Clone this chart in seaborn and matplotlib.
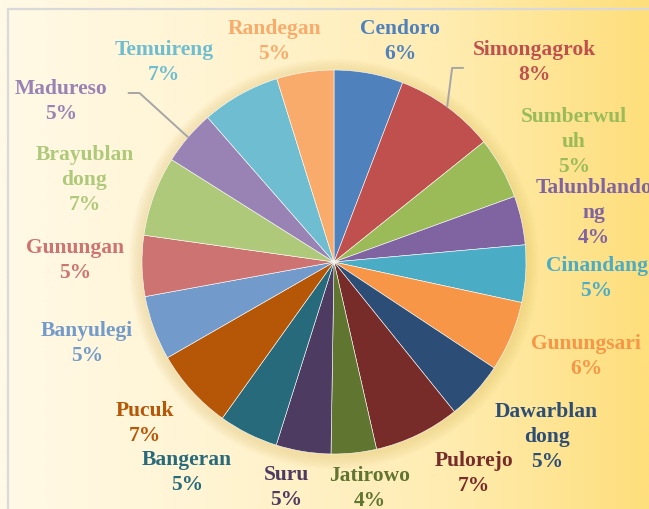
import numpy as np
import matplotlib.pyplot as plt
import seaborn as sns
from matplotlib.colors import LinearSegmentedColormap
from matplotlib.patches import Circle

# village shares, clockwise from the top
villages = ["Cendoro", "Simongagrok", "Sumberwuluh", "Talunblandong", "Cinandang",
            "Gunungsari", "Dawarblandong", "Pulorejo", "Jatirowo", "Suru",
            "Bangeran", "Pucuk", "Banyulegi", "Gunungan", "Brayublandong",
            "Madureso", "Temuireng", "Randegan"]
shares = [5.8, 8.4, 5.2, 4.1, 4.8, 5.9, 4.9, 7.2, 3.8, 4.6,
          5.0, 6.8, 5.4, 5.1, 6.7, 4.6, 6.6, 4.8]

colors = ["#4F81BD", "#C0504D", "#9BBB59", "#8064A2", "#4BACC6", "#F79646",
          "#2C4D75", "#772C2A", "#5F7530", "#4D3B62", "#276A7C", "#B65708",
          "#729ACA", "#CD7371", "#AFC97A", "#9983B5", "#6FBDD1", "#F9AB6B"]

# label placement: (angle shift clockwise in degrees, distance from centre in px)
label_place = [(6.2, 231), (8.9, 283), (2.5, 269), (1.6, 265), (-0.2, 263),
               (-2.5, 269), (-3.0, 275), (-7.8, 253), (-3.0, 228), (2.8, 230),
               (8.5, 256), (1.9, 248), (2.0, 260), (1.7, 259), (-1.7, 263),
               (-9.8, 317), (-11.0, 263), (-6.4, 229)]
wrap_at = {"Sumberwuluh": 9, "Talunblandong": 11, "Brayublandong": 9, "Dawarblandong": 9}
# leader lines: offset of line end from label centre (px, y down)
leaders = {"Simongagrok": (-71, 6), "Madureso": (67, -7)}
line_pitch = 25

sns.set_style("white")
plt.rcParams["font.family"] = ["Liberation Serif", "DejaVu Serif"]

W, H = 649, 510
fig = plt.figure(figsize=(W / 100, H / 100), dpi=100)
ax = fig.add_axes([0, 0, 1, 1])

# background gradient
bg = LinearSegmentedColormap.from_list("bg", ["#FFF9E6", "#FFF4D2", "#FFEDB4", "#FEDF7C"])
ax.imshow(np.linspace(0, 1, 300)[None, :], extent=(0, W, 0, H), cmap=bg,
          aspect="auto", zorder=0)
ax.plot([8, 8, W], [0, H - 10, H - 10], color="#D9D9D9", lw=1.6, zorder=1)

cx, cy, R = 334, H - 263, 192

# soft shadow round the pie
for k in range(8):
    ax.add_patch(Circle((cx, cy - 2), R + 2 + k * 1.6, color="#D9B04A",
                        alpha=0.035, lw=0, zorder=1))

wedges, _ = ax.pie(shares, colors=colors, startangle=90, counterclock=False,
                   center=(cx, cy), radius=R, frame=True,
                   wedgeprops=dict(edgecolor="#FFFFFF", linewidth=0.4))
for w in wedges:
    w.set_zorder(2)

total = sum(shares)
for w, name, v, col, (dth, r) in zip(wedges, villages, shares, colors, label_place):
    mid = (w.theta1 + w.theta2) / 2
    ang = np.radians(mid - dth)
    lx, ly = cx + r * np.cos(ang), cy + r * np.sin(ang)
    n = wrap_at.get(name)
    lines = [name] if n is None else [name[:n], name[n:]]
    lines.append(f"{v / total * 100:.0f}%")
    top = ly + (len(lines) - 1) * line_pitch / 2
    for i, txt in enumerate(lines):
        ax.text(lx, top - i * line_pitch, txt, ha="center", va="center",
                color=col, fontsize=15.5, fontweight="bold", zorder=4)
    if name in leaders:
        ox, oy = leaders[name]
        ex, ey = lx + ox, ly - oy
        bx = ex + 11 * np.sign(ox)
        m = np.radians(mid)
        sx, sy = cx + R * np.cos(m), cy + R * np.sin(m)
        ax.plot([sx, bx, ex], [sy, ey, ey], color="#A6A6A6", lw=1.4, zorder=3)

ax.set_xlim(0, W)
ax.set_ylim(0, H)
ax.set_aspect("auto")
ax.axis("off")

fig.savefig("out.png", dpi=100)
